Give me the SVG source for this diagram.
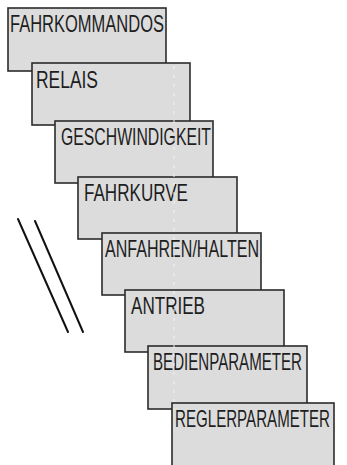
<svg xmlns="http://www.w3.org/2000/svg" width="347" height="465" viewBox="0 0 347 465">
  <style>
    .panel { fill: #dcdcdc; stroke: #2b2b2b; stroke-width: 1.6; }
    .lcd { font-family: "Liberation Sans Narrow", "Liberation Sans", "DejaVu Sans", sans-serif; font-size: 24px; fill: #1e1e1e; }
    .slash { stroke: #111; stroke-width: 2; stroke-linecap: round; fill: none; }
    .seam { stroke: #f3f3f3; stroke-width: 1; stroke-dasharray: 3 6; fill: none; }
  </style>
  <rect width="347" height="465" fill="#ffffff"/>

  <!-- stacked menu panels, each offset down and to the right -->
  <g id="fahrkommandos">
    <rect class="panel" x="8" y="8" width="158" height="63"/>
    <text class="lcd" x="10" y="32" textLength="154" lengthAdjust="spacingAndGlyphs">FAHRKOMMANDOS</text>
  </g>
  <g id="relais">
    <rect class="panel" x="32" y="63" width="158" height="62"/>
    <text class="lcd" x="36" y="88" textLength="62" lengthAdjust="spacingAndGlyphs">RELAIS</text>
  </g>
  <g id="geschwindigkeit">
    <rect class="panel" x="55" y="121" width="158" height="62"/>
    <text class="lcd" x="61" y="145" textLength="150" lengthAdjust="spacingAndGlyphs">GESCHWINDIGKEIT</text>
  </g>
  <g id="fahrkurve">
    <rect class="panel" x="78" y="177" width="159" height="62"/>
    <text class="lcd" x="84" y="201" textLength="104" lengthAdjust="spacingAndGlyphs">FAHRKURVE</text>
  </g>
  <g id="anfahren-halten">
    <rect class="panel" x="102" y="233" width="159" height="62"/>
    <text class="lcd" x="105" y="257" textLength="154" lengthAdjust="spacingAndGlyphs">ANFAHREN/HALTEN</text>
  </g>
  <g id="antrieb">
    <rect class="panel" x="125" y="290" width="159" height="62"/>
    <text class="lcd" x="131" y="314" textLength="74" lengthAdjust="spacingAndGlyphs">ANTRIEB</text>
  </g>
  <g id="bedienparameter">
    <rect class="panel" x="148" y="346" width="159" height="63"/>
    <text class="lcd" x="153" y="370" textLength="149" lengthAdjust="spacingAndGlyphs">BEDIENPARAMETER</text>
  </g>
  <g id="reglerparameter">
    <rect class="panel" x="172" y="403" width="162" height="66"/>
    <text class="lcd" x="175" y="427" textLength="155" lengthAdjust="spacingAndGlyphs">REGLERPARAMETER</text>
  </g>

  <!-- faint vertical seam running through the panels -->
  <line class="seam" x1="174" y1="66" x2="174" y2="410"/>

  <!-- double slash marking the skipped entries -->
  <g id="connectors">
    <line class="slash" x1="18" y1="219" x2="68" y2="332"/>
    <line class="slash" x1="35" y1="221" x2="83" y2="332"/>
  </g>
</svg>
